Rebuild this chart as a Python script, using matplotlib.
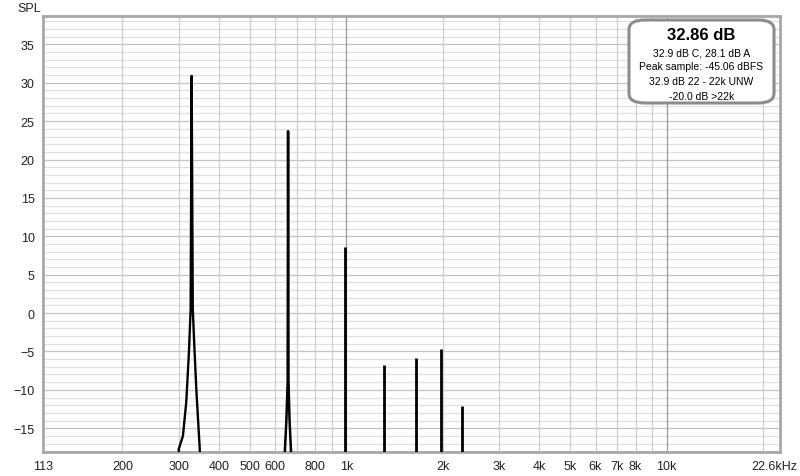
import matplotlib
matplotlib.use("Agg")
import matplotlib.pyplot as plt
from matplotlib.patches import FancyBboxPatch
from matplotlib.transforms import ScaledTranslation

# peak shapes (Hz, dB SPL)
peak1_hz = [292, 300, 309, 316.5, 322.6, 326.6, 329, 331.7, 335.7, 340.6, 348.7, 354]
peak1_db = [-30, -17.7, -16.0, -11.6, -5.1, 0.5, 30.9, 0.5, -4.7, -10.3, -17.7, -30]
peak2_hz = [636, 643, 650, 656, 658, 660, 665, 672, 680]
peak2_db = [-30, -18, -14, -9, 23.7, -9, -14, -18, -30]
harm_hz = [988, 1316, 1648, 1976, 2305]
harm_db = [8.6, -6.8, -5.9, -4.7, -12.1]

xtick_vals = [113, 200, 300, 400, 500, 600, 800, 1000, 2000, 3000, 4000, 5000,
              6000, 7000, 8000, 10000, 22600]
xtick_labels = ["113", "200", "300", "400", "500", "600", "800", "1k", "2k", "3k",
                "4k", "5k", "6k", "7k", "8k", "10k", "22.6kHz"]
ytick_vals = [-15, -10, -5, 0, 5, 10, 15, 20, 25, 30, 35]

info_title = "32.86 dB"
info_lines = ["32.9 dB C, 28.1 dB A", "Peak sample: -45.06 dBFS",
              "32.9 dB 22 - 22k UNW", "-20.0 dB >22k"]

plt.rcParams['font.family'] = ['Liberation Sans', 'DejaVu Sans']

W, H = 800, 477
fig = plt.figure(figsize=(W / 100, H / 100), dpi=100)
left, right, top, bottom = 43, 780, 17, 453
ax = fig.add_axes([left / W, (H - bottom) / H, (right - left) / W, (bottom - top) / H])

ax.set_xscale("log")
ax.set_xlim(113, 22600)
ax.set_ylim(-18.1, 38.7)

# grid: 1 dB horizontal lines, 100 / 1k steps vertical; decades darker
minor_x = list(range(200, 1000, 100)) + list(range(2000, 10000, 1000)) + [20000]
for f in minor_x:
    ax.axvline(f, color="#cfcfcf", lw=0.9, zorder=1)
for v in range(-18, 39):
    c = "#c4c4c4" if v % 5 == 0 else "#e0e0e0"
    ax.axhline(v, color=c, lw=0.9, zorder=0)
for f in [1000, 10000]:
    ax.axvline(f, color="#9a9a9a", lw=0.9, zorder=2)

ax.plot(peak1_hz, peak1_db, color="black", lw=1.7, zorder=3)
ax.plot(peak2_hz, peak2_db, color="black", lw=1.8, zorder=3)
ax.vlines(harm_hz, -30, harm_db, color="black", lw=2.0, zorder=3)

ax.set_xticks(xtick_vals)
ax.set_xticklabels(xtick_labels)
ax.xaxis.set_minor_locator(matplotlib.ticker.NullLocator())
ax.set_yticks(ytick_vals)
ax.tick_params(axis="both", length=0, labelsize=9, colors="#222222")
ax.tick_params(axis="x", pad=6)
ax.tick_params(axis="y", pad=6)
last = ax.get_xticklabels()[-1]
last.set_transform(last.get_transform() + ScaledTranslation(-6 / 100, 0, fig.dpi_scale_trans))

for s in ax.spines.values():
    s.set_color("#a8a8a8")
    s.set_linewidth(2.0)

fig.text(17 / W, 1 - 9 / H, "SPL", fontsize=9, va="center", ha="left", color="#222222")

# info box in the top right corner
bx0, by0, bx1, by1 = 629, 21, 774, 104
box = FancyBboxPatch((bx0 / W, 1 - by1 / H), (bx1 - bx0) / W, (by1 - by0) / H,
                     boxstyle="round,pad=0,rounding_size=0.02",
                     transform=fig.transFigure, facecolor="white",
                     edgecolor="#8c8c8c", linewidth=2.2, zorder=5)
fig.patches.append(box)
cx = (bx0 + bx1) / 2 / W
fig.text(cx, 1 - 36 / H, info_title, fontsize=12, fontweight="bold",
         ha="center", va="center", zorder=6)
for i, line in enumerate(info_lines):
    fig.text(cx, 1 - (53 + i * 14.5) / H, line, fontsize=7.5, ha="center",
             va="center", zorder=6)

fig.savefig("out.png", dpi=100, facecolor="white")
